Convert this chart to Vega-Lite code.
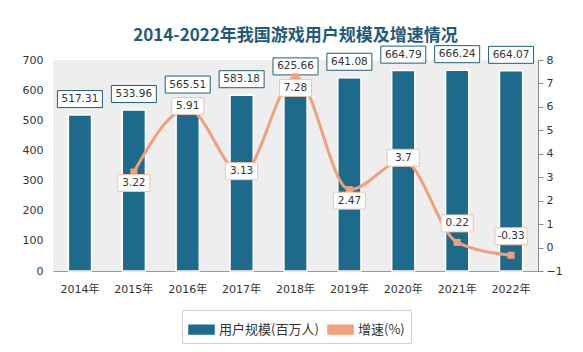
{
  "$schema": "https://vega.github.io/schema/vega-lite/v6.json",
  "width": 485,
  "height": 211,
  "autosize": {"type": "none"},
  "padding": {"left": 53, "top": 60, "right": 45, "bottom": 81},
  "background": "white",
  "title": {
    "text": "2014-2022年我国游戏用户规模及增速情况",
    "font": "Noto Sans CJK SC",
    "fontSize": 17,
    "fontWeight": "bold",
    "color": "#1f5a78",
    "anchor": "middle",
    "offset": 0,
    "dy": 1
  },
  "config": {
    "view": {"stroke": null, "fill": "#eeeeee"},
    "font": "DejaVu Sans"
  },
  "data": {
    "values": [
      {"year": "2014年", "users": 517.31, "growth": null},
      {"year": "2015年", "users": 533.96, "growth": 3.22},
      {"year": "2016年", "users": 565.51, "growth": 5.91},
      {"year": "2017年", "users": 583.18, "growth": 3.13},
      {"year": "2018年", "users": 625.66, "growth": 7.28},
      {"year": "2019年", "users": 641.08, "growth": 2.47},
      {"year": "2020年", "users": 664.79, "growth": 3.7},
      {"year": "2021年", "users": 666.24, "growth": 0.22},
      {"year": "2022年", "users": 664.07, "growth": -0.33}
    ]
  },
  "layer": [
    {
      "encoding": {
        "x": {
          "field": "year",
          "type": "ordinal",
          "scale": {"paddingInner": 0.57, "paddingOuter": 0.285},
          "axis": {
            "title": null,
            "labelAngle": 0,
            "ticks": false,
            "domainColor": "#999999",
            "labelFont": "DejaVu Sans, Noto Sans CJK SC",
            "labelFontSize": 11,
            "labelColor": "#333333",
            "labelPadding": 12
          }
        },
        "y": {
          "field": "users",
          "type": "quantitative",
          "scale": {"domain": [0, 700]},
          "axis": {
            "title": null,
            "values": [0, 100, 200, 300, 400, 500, 600, 700],
            "grid": false,
            "domain": false,
            "ticks": false,
            "labelPadding": 10,
            "labelFontSize": 11,
            "labelColor": "#333333"
          }
        }
      },
      "layer": [
        {
          "mark": {"type": "bar", "stroke": "white", "strokeWidth": 1.5},
          "encoding": {
            "color": {
              "datum": "用户规模(百万人)",
              "scale": {"domain": ["用户规模(百万人)", "增速(%)"], "range": ["#1d6a8c", "#f0a07a"]},
              "legend": {
                "orient": "none",
                "legendX": 129,
                "legendY": 250,
                "direction": "horizontal",
                "title": null,
                "strokeColor": "#d0d0d0",
                "padding": 6,
                "labelFont": "Noto Sans CJK SC",
                "labelFontSize": 13,
                "labelColor": "#333333",
                "labelLimit": 200,
                "symbolSize": 625,
                "columnPadding": 6,
                "symbolType": "M-1,-0.35H1V0.35H-1Z"
              }
            }
          }
        },
        {
          "mark": {"type": "point", "shape": "M-1,-0.378H1V0.378H-1Z", "size": 2025, "filled": true, "fill": "white", "stroke": "#1f5f7a", "strokeWidth": 1, "opacity": 1, "yOffset": -16}
        },
        {
          "mark": {"type": "text", "fontSize": 10.5, "color": "#333333", "baseline": "middle", "yOffset": -16},
          "encoding": {"text": {"field": "users", "type": "nominal"}}
        }
      ]
    },
    {
      "encoding": {
        "x": {"field": "year", "type": "ordinal"},
        "y": {
          "field": "growth",
          "type": "quantitative",
          "scale": {"domain": [-1, 8]},
          "axis": {
            "orient": "right",
            "title": null,
            "values": [-1, 0, 1, 2, 3, 4, 5, 6, 7, 8],
            "grid": false,
            "domain": true,
            "domainColor": "#888888",
            "ticks": true,
            "tickColor": "#888888",
            "tickSize": 5,
            "labelPadding": 3,
            "labelFontSize": 11,
            "labelColor": "#333333"
          }
        }
      },
      "layer": [
        {
          "mark": {"type": "line", "interpolate": "monotone", "strokeWidth": 3},
          "encoding": {"color": {"datum": "增速(%)"}}
        },
        {
          "mark": {"type": "point", "shape": "square", "filled": true, "size": 50, "color": "#f0a07a", "opacity": 1}
        },
        {
          "transform": [{"filter": {"field": "year", "oneOf": ["2015年", "2018年", "2019年"]}}],
          "layer": [
            {"mark": {"type": "point", "shape": "M-1,-0.53H1V0.53H-1Z", "size": 1024, "filled": true, "fill": "white", "stroke": "#f5c3a8", "strokeWidth": 1, "opacity": 1, "yOffset": 11}},
            {"mark": {"type": "text", "fontSize": 10.5, "color": "#333333", "baseline": "middle", "yOffset": 11}, "encoding": {"text": {"field": "growth", "type": "nominal"}}}
          ]
        },
        {
          "transform": [{"filter": {"field": "year", "oneOf": ["2016年", "2017年", "2020年"]}}],
          "layer": [
            {"mark": {"type": "point", "shape": "M-1,-0.53H1V0.53H-1Z", "size": 1024, "filled": true, "fill": "white", "stroke": "#f5c3a8", "strokeWidth": 1, "opacity": 1, "yOffset": -3}},
            {"mark": {"type": "text", "fontSize": 10.5, "color": "#333333", "baseline": "middle", "yOffset": -3}, "encoding": {"text": {"field": "growth", "type": "nominal"}}}
          ]
        },
        {
          "transform": [{"filter": {"field": "year", "oneOf": ["2021年", "2022年"]}}],
          "layer": [
            {"mark": {"type": "point", "shape": "M-1,-0.53H1V0.53H-1Z", "size": 1024, "filled": true, "fill": "white", "stroke": "#f5c3a8", "strokeWidth": 1, "opacity": 1, "yOffset": -19}},
            {"mark": {"type": "text", "fontSize": 10.5, "color": "#333333", "baseline": "middle", "yOffset": -19}, "encoding": {"text": {"field": "growth", "type": "nominal"}}}
          ]
        }
      ]
    }
  ],
  "resolve": {"scale": {"y": "independent"}}
}
